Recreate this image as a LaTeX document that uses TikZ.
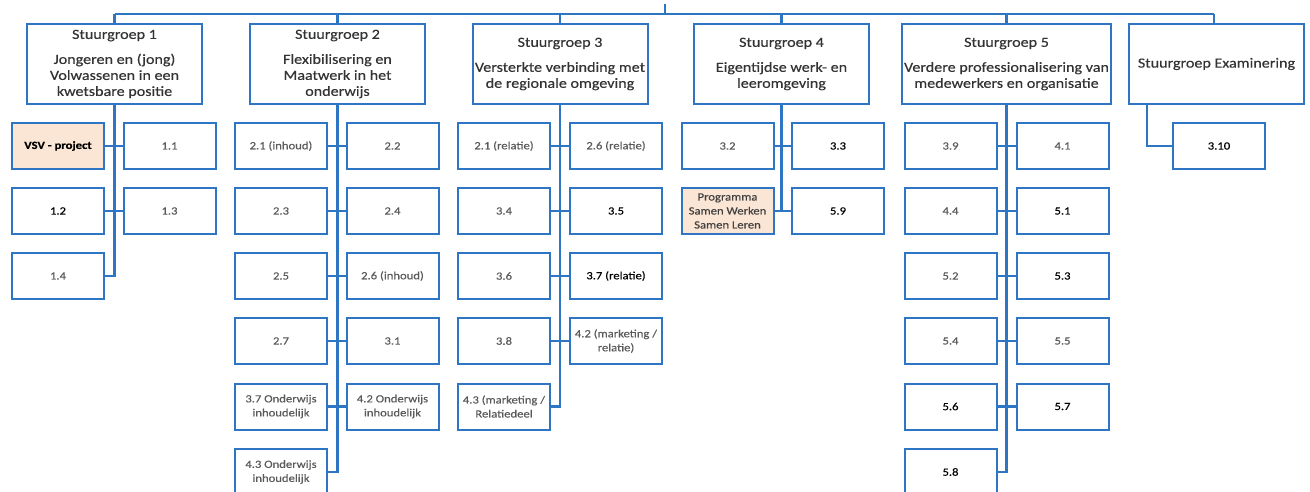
\documentclass[tikz,border=0pt]{standalone}
\usepackage{fontspec}
\setmainfont{Carlito}[FakeStretch=1.15,FakeBold=0.4]
\definecolor{sgblue}{RGB}{46,117,195}
\definecolor{peach}{RGB}{251,229,212}
\definecolor{txtgray}{RGB}{90,90,90}
\tikzset{
  sg/.style={draw=sgblue, line width=2pt, minimum width=175pt, minimum height=80pt, align=center, inner sep=1pt, text=black!80, font=\fontsize{14}{16}\selectfont},
  box/.style={draw=sgblue, line width=2pt, minimum width=92pt, minimum height=46pt, align=center, inner sep=1pt, text=txtgray, font=\fontsize{11}{14}\selectfont},
  dark/.style={text=black},
  hl/.style={fill=peach},
  link/.style={draw=sgblue, line width=2.5pt},
}
\begin{document}
\begin{tikzpicture}[x=1pt,y=-1pt]
\useasboundingbox (0,0) rectangle (1310,492);
\clip (0,0) rectangle (1310,492);
% stuurgroepen
\node[sg] (sg1) at (114.5,64) {Stuurgroep 1\\[9pt]Jongeren en (jong)\\Volwassenen in een\\kwetsbare positie};
\node[sg] (sg2) at (337.5,64) {Stuurgroep 2\\[9pt]Flexibilisering en\\Maatwerk in het\\onderwijs};
\node[sg] (sg3) at (560,64) {Stuurgroep 3\\[9pt]Versterkte verbinding met\\de regionale omgeving};
\node[sg] (sg4) at (781.5,64) {Stuurgroep 4\\[9pt]Eigentijdse werk- en\\leeromgeving};
\node[sg, minimum width=209pt] (sg5) at (1006.5,64) {Stuurgroep 5\\[9pt]Verdere professionalisering van\\medewerkers en organisatie};
\node[sg] (sge) at (1216.5,64) {Stuurgroep Examinering};
% groep 1
\node[box, hl, dark, font=\fontsize{11}{14}\bfseries] (g1l1) at (58,146) {VSV - project};
\node[box] (g1r1) at (169.5,146) {1.1};
\node[box, dark] (g1l2) at (58,211) {1.2};
\node[box] (g1r2) at (169.5,211) {1.3};
\node[box] (g1l3) at (58,276) {1.4};
% groep 2
\node[box] (g2l1) at (281,146) {2.1 (inhoud)};
\node[box] (g2r1) at (392.5,146) {2.2};
\node[box] (g2l2) at (281,211) {2.3};
\node[box] (g2r2) at (392.5,211) {2.4};
\node[box] (g2l3) at (281,276) {2.5};
\node[box] (g2r3) at (392.5,276) {2.6 (inhoud)};
\node[box] (g2l4) at (281,341) {2.7};
\node[box] (g2r4) at (392.5,341) {3.1};
\node[box] (g2l5) at (281,406.5) {3.7 Onderwijs\\inhoudelijk};
\node[box] (g2r5) at (392.5,406.5) {4.2 Onderwijs\\inhoudelijk};
\node[box] (g2l6) at (281,472) {4.3 Onderwijs\\inhoudelijk};
% groep 3
\node[box] (g3l1) at (504,146) {2.1 (relatie)};
\node[box] (g3r1) at (616,146) {2.6 (relatie)};
\node[box] (g3l2) at (504,211) {3.4};
\node[box, dark] (g3r2) at (616,211) {3.5};
\node[box] (g3l3) at (504,276) {3.6};
\node[box, dark] (g3r3) at (616,276) {3.7 (relatie)};
\node[box] (g3l4) at (504,341) {3.8};
\node[box] (g3r4) at (616,341) {4.2 (marketing /\\relatie)};
\node[box] (g3l5) at (504,406.5) {4.3 (marketing /\\Relatiedeel};
% groep 4
\node[box] (g4l1) at (727.5,146) {3.2};
\node[box, dark] (g4r1) at (838,146) {3.3};
\node[box, hl, text=black!75] (g4l2) at (727.5,211) {Programma\\Samen Werken\\Samen Leren};
\node[box, dark] (g4r2) at (838,211) {5.9};
% groep 5
\node[box] (g5l1) at (950.5,146) {3.9};
\node[box] (g5r1) at (1062.5,146) {4.1};
\node[box] (g5l2) at (950.5,211) {4.4};
\node[box, dark] (g5r2) at (1062.5,211) {5.1};
\node[box] (g5l3) at (950.5,276) {5.2};
\node[box, dark] (g5r3) at (1062.5,276) {5.3};
\node[box] (g5l4) at (950.5,341) {5.4};
\node[box] (g5r4) at (1062.5,341) {5.5};
\node[box, dark] (g5l5) at (950.5,406.5) {5.6};
\node[box, dark] (g5r5) at (1062.5,406.5) {5.7};
\node[box, dark] (g5l6) at (950.5,472) {5.8};
% examinering
\node[box, dark] (ge1) at (1219,146) {3.10};
% bovenlijn
\coordinate (top) at (665,4);
\coordinate (busm) at (665,14);
\coordinate (busl) at (114.5,14);
\coordinate (busr) at (1214,14);
\coordinate (exd) at (1147,104);
\draw[link] (top) -- (busm);
\draw[link] (busl) -- (busr);
\foreach \g in {sg1,sg2,sg3,sg4,sg5}
  \draw[link] (\g.north) -- (\g.north |- busl);
\draw[link] (busr) -- (busr |- sge.north);
% verbindingen
\draw[link] (sg1.south) |- (g1l3.east);
\draw[link] (g1l1.east) -- (g1r1.west);
\draw[link] (g1l2.east) -- (g1r2.west);
\draw[link] (sg2.south) |- (g2l6.east);
\foreach \i in {1,...,5}
  \draw[link] (g2l\i.east) -- (g2r\i.west);
\draw[link] (sg3.south) |- (g3l5.east);
\foreach \i in {1,...,4}
  \draw[link] (g3l\i.east) -- (g3r\i.west);
\draw[link] (sg4.south) -- (sg4.south |- g4l2.east);
\draw[link] (g4l1.east) -- (g4r1.west);
\draw[link] (g4l2.east) -- (g4r2.west);
\draw[link] (sg5.south) |- (g5l6.east);
\foreach \i in {1,...,5}
  \draw[link] (g5l\i.east) -- (g5r\i.west);
\draw[link] (exd) |- (ge1.west);
\end{tikzpicture}
\end{document}
